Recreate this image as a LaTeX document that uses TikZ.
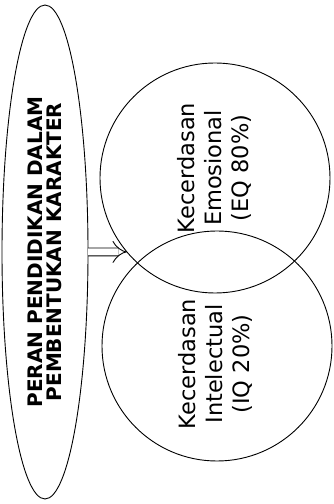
\documentclass[tikz,border=0pt]{standalone}
\usepackage{fontspec}
\setmainfont{DejaVu Sans}
\usetikzlibrary{shapes.geometric,arrows.meta}
\begin{document}
\begin{tikzpicture}[x=1pt,y=1pt,line width=0.9pt]
\useasboundingbox (0,0) rectangle (334,504);
\tikzset{
  ring/.style={draw, circle, minimum size=230pt, inner sep=0pt, outer sep=0pt},
  ringtext/.style={rotate=90, align=center, font=\fontsize{22.5}{27}\selectfont}
}
\node[draw, ellipse, rotate=90, minimum width=494pt, minimum height=86pt, inner sep=0pt, outer sep=0pt, align=center, font=\bfseries\fontsize{20}{19.5}\selectfont] (peran) at (45,252) {PERAN PENDIDIKAN DALAM\\PEMBENTUKAN KARAKTER};
\node[ring] (emo) at (215,326) {};
\node[ring] (intel) at (217,158) {};
\node[ringtext] (emotxt) at (214,336) {Kecerdasan\\Emosional\\(EQ 80\%)};
\node[ringtext] (inteltxt) at (215,140) {Kecerdasan\\Intelectual\\(IQ 20\%)};
\draw[double, double distance=7pt, -{Implies}] (peran.south) -- (emo.220);
\end{tikzpicture}
\end{document}
